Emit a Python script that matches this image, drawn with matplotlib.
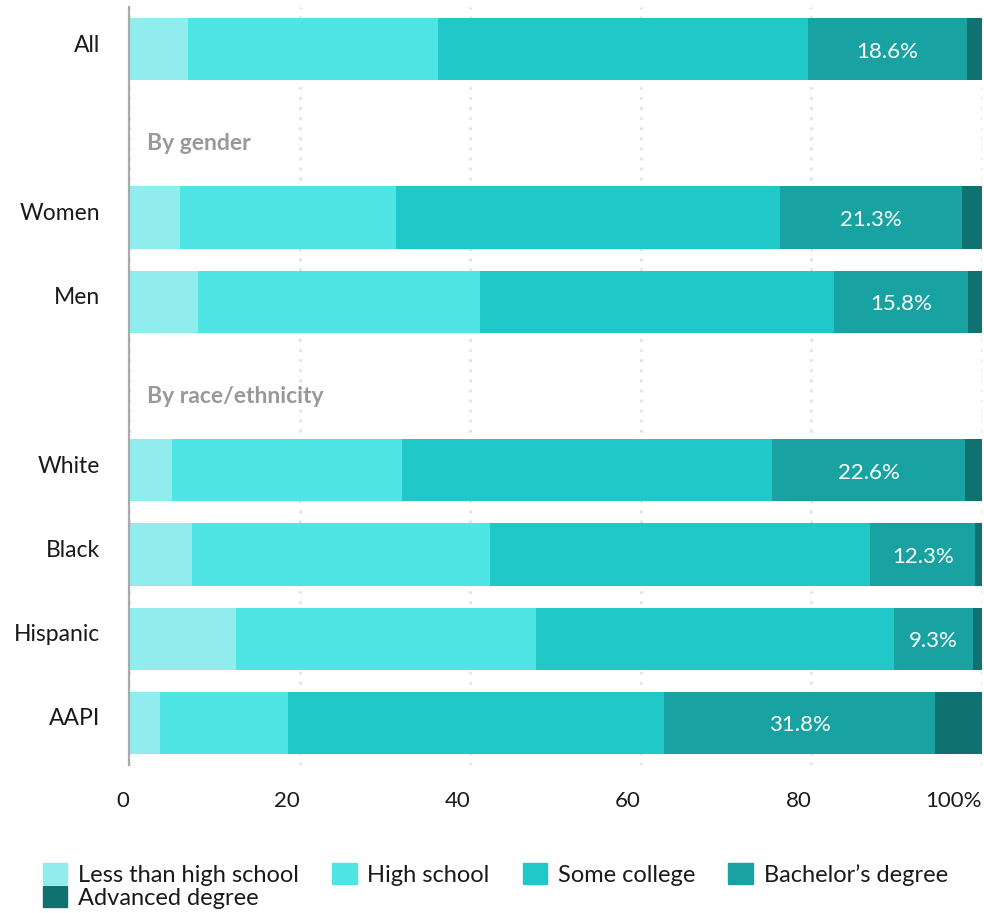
import matplotlib.pyplot as plt
import matplotlib.transforms as mtransforms
import numpy as np
from matplotlib.patches import Patch

plt.rcParams['font.family'] = ['Lato', 'DejaVu Sans']

# rows from bottom to top; None marks a section header slot
rows = ["AAPI", "Hispanic", "Black", "White", None, "Men", "Women", None, "All"]
headers = {4: "By race/ethnicity", 7: "By gender"}

series = ["Less than high school", "High school", "Some college",
          "Bachelor\u2019s degree", "Advanced degree"]
colors = ["#91eded", "#4fe5e5", "#20c8c8", "#18a2a2", "#107270"]

data = {
    "All":      [6.9, 29.3, 43.4, 18.6, 1.8],
    "Women":    [6.0, 25.3, 45.0, 21.3, 2.4],
    "Men":      [8.1, 33.0, 41.5, 15.8, 1.6],
    "White":    [5.0, 27.0, 43.4, 22.6, 2.0],
    "Black":    [7.4, 34.9, 44.6, 12.3, 0.8],
    "Hispanic": [12.5, 35.2, 42.0, 9.3, 1.0],
    "AAPI":     [3.6, 15.0, 44.1, 31.8, 5.5],
}

fig = plt.figure(figsize=(9.84, 9.13), dpi=100)
ax = fig.add_axes([129 / 984, 1 - 765 / 913, 853 / 984, 758 / 913])

ypos = [i for i, r in enumerate(rows) if r is not None]
labels = [r for r in rows if r is not None]
vals = np.array([data[r] for r in labels])

left = np.zeros(len(labels))
for k, (name, col) in enumerate(zip(series, colors)):
    ax.barh(ypos, vals[:, k], left=left, height=0.74, color=col, label=name, zorder=2)
    if k == 3:
        for y, l, v in zip(ypos, left, vals[:, k]):
            ax.text(l + v / 2, y - 0.03, f"{v:.1f}%", color="white", ha="center",
                    va="center", fontsize=16, zorder=3)
    left += vals[:, k]

for y, txt in headers.items():
    ax.text(2.1, y - 0.12, txt, color="#999999", fontweight="bold", fontsize=16.5,
            ha="left", va="center")

ax.set_xlim(0, 100)
ax.set_ylim(-0.5, 8.5)
ax.set_yticks(ypos)
ax.set_yticklabels(labels)
ax.set_xticks([0, 20, 40, 60, 80, 100])
ax.set_xticklabels(["0", "20", "40", "60", "80", "100%"], ha="right")
ax.tick_params(axis="y", length=0, pad=21, labelsize=16.5, labelcolor="#1a1a1a")
ax.tick_params(axis="x", length=0, pad=19, labelsize=16, labelcolor="#1a1a1a")
up = mtransforms.ScaledTranslation(0, 0.06, fig.dpi_scale_trans)
for lab in ax.get_yticklabels():
    lab.set_transform(lab.get_transform() + up)

for s in ["top", "right", "bottom"]:
    ax.spines[s].set_visible(False)
ax.spines["left"].set_color("#aaaaaa")
ax.spines["left"].set_linewidth(1.6)
ax.spines["left"].set_zorder(4)

ax.set_axisbelow(True)
ax.grid(axis="x", color="#e6e6e6", linewidth=2.2, linestyle=(0, (1, 2.3)))
ax.grid(axis="y", visible=False)

handles = [Patch(color=c) for c in colors]
order = [0, 4, 1, 2, 3]
fig.legend([handles[i] for i in order], [series[i] for i in order],
           ncol=4, loc="upper left", bbox_to_anchor=(26 / 984, 1 - 846 / 913),
           frameon=False, fontsize=17, handlelength=1.05, handleheight=1.05,
           handletextpad=0.45, columnspacing=1.4, labelspacing=0.0,
           borderpad=0.2, labelcolor="#1a1a1a")

fig.savefig("out.png", dpi=100)
